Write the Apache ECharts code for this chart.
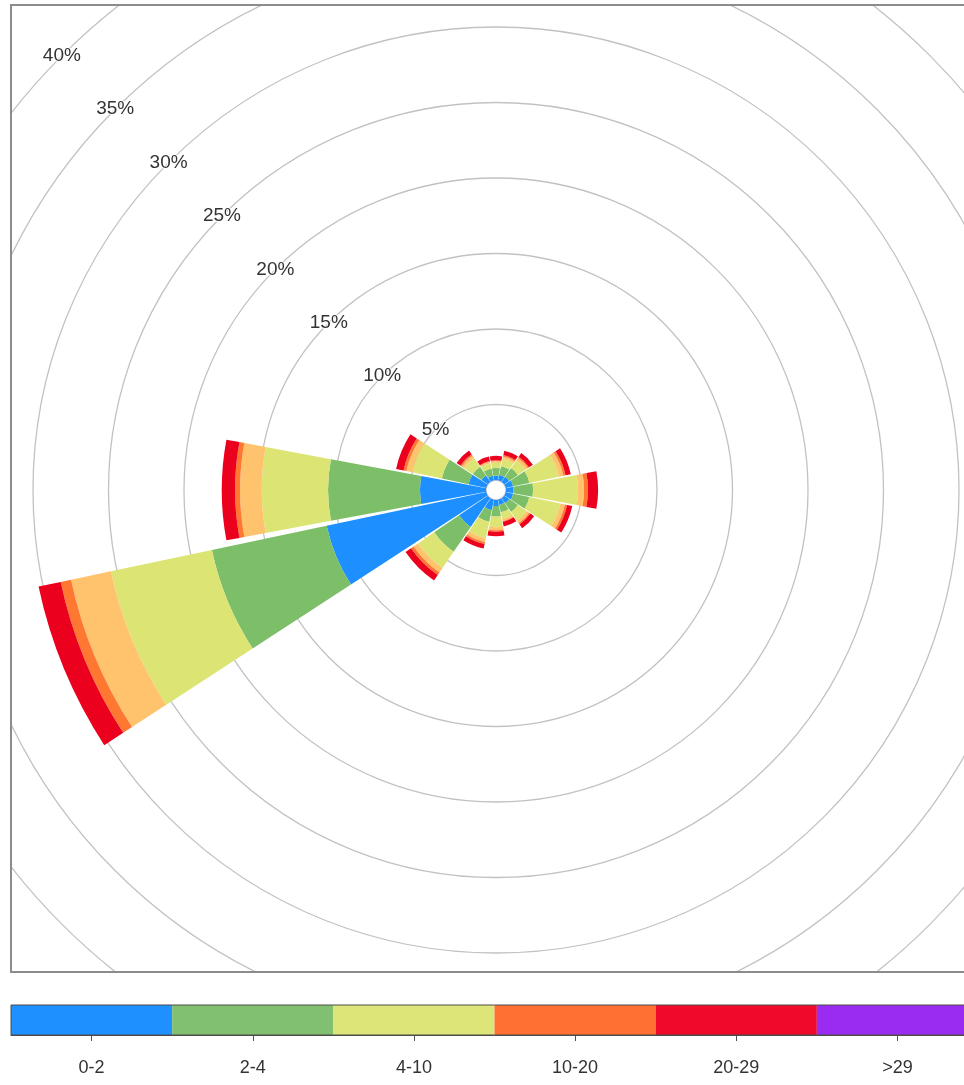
<!DOCTYPE html>
<html><head><meta charset="utf-8">
<script src="https://cdn.jsdelivr.net/npm/echarts@6/dist/echarts.min.js"></script>
<style>
html,body{margin:0;padding:0;background:#fff;overflow:hidden;width:964px;height:1085px;}
#rose{position:absolute;left:10px;top:4px;width:1000px;height:969px;border:2px solid #8c8c8c;box-sizing:border-box;}
#bar{position:absolute;left:0;top:990px;width:1000px;height:95px;}
</style></head><body>
<div id="rose"></div><div id="bar"></div>
<script>
// ---- data ----
const directions = ['N','NNE','NE','ENE','E','ESE','SE','SSE','S','SSW','SW','WSW','W','WNW','NW','NNW'];
const speedBins = ['0-2','2-4','4-10','10-20','20-29','>29'];
// frequency (%) per direction for each wind-speed bin
const bin0_2   = [0.30,0.35,0.40,0.50,0.50,0.50,0.40,0.35,0.40,0.70,2.30,10.80,4.37,1.20,0.50,0.30];
const bin2_4   = [0.50,0.60,0.70,1.10,1.30,1.10,0.70,0.50,0.70,0.80,2.00,7.77,6.09,1.80,0.70,0.50];
const bin4_10  = [0.35,0.50,0.60,2.00,2.97,2.10,0.70,0.45,0.70,1.10,1.30,6.83,4.39,2.00,0.70,0.35];
const bin10_20 = [0.10,0.15,0.20,0.30,0.40,0.30,0.20,0.15,0.20,0.25,0.36,2.70,1.44,0.40,0.20,0.10];
const bin20_29 = [0.05,0.10,0.10,0.15,0.26,0.15,0.10,0.05,0.10,0.15,0.20,0.70,0.33,0.20,0.10,0.05];
const bin29up  = [0.30,0.30,0.30,0.35,0.67,0.35,0.30,0.30,0.30,0.30,0.44,1.50,0.88,0.50,0.30,0.30];
const radiusMax = 45;
const radiusStep = 5;
const legendUnit = [1,1,1,1,1,1];

// ---- styles ----
const roseColors = ['#1E8FFF','#7DBE69','#DCE473','#FFC36E','#FF7832','#EB001E'];
const legendColors = ['#1E90FF','#80C070','#DDE478','#FF7033','#EE0A28','#9A2BF0'];
const font = 'Liberation Sans, Arial, sans-serif';

const binData = [bin0_2, bin2_4, bin4_10, bin10_20, bin20_29, bin29up];

const rose = echarts.init(document.getElementById('rose'));
const center = [484, 484];
const radius = [10, 10 + radiusMax * 15.1];
rose.setOption({
  animation: false,
  polar: [
    { center: center, radius: radius },
    { center: center, radius: radius }
  ],
  angleAxis: [
    { polarIndex: 0, type: 'value', min: 0, max: 360, startAngle: 135,
      axisLine: {show: false}, axisTick: {show: false}, axisLabel: {show: false}, splitLine: {show: false} },
    { polarIndex: 1, type: 'category', data: directions, startAngle: 101.25,
      axisLine: {show: false}, axisTick: {show: false}, axisLabel: {show: false}, splitLine: {show: false} }
  ],
  radiusAxis: [
    { polarIndex: 0, type: 'value', min: 0, max: radiusMax, interval: radiusStep,
      axisLine: {show: false}, axisTick: {show: false},
      splitLine: {show: true, showMinLine: false, lineStyle: {color: '#c2c2c2', width: 1.3}},
      axisLabel: {margin: 0, align: 'center', verticalAlign: 'middle', fontSize: 19, color: '#333',
        fontFamily: font, textBorderColor: '#fff', textBorderWidth: 2,
        formatter: v => (v > 0 && v <= 40) ? v + '%' : ''} },
    { polarIndex: 1, type: 'value', min: 0, max: radiusMax,
      axisLine: {show: false}, axisTick: {show: false}, axisLabel: {show: false}, splitLine: {show: false} }
  ],
  series: binData.map((d, i) => ({
    type: 'bar', coordinateSystem: 'polar', polarIndex: 1, stack: 'wind', z: 3,
    name: speedBins[i], data: d, barCategoryGap: '6%', silent: true,
    itemStyle: {color: roseColors[i]}
  }))
});

const bar = echarts.init(document.getElementById('bar'));
bar.setOption({
  animation: false,
  grid: {left: 11, top: 15, width: 967, height: 30, show: true, z: 10,
    backgroundColor: 'transparent', borderColor: '#4d4d4d', borderWidth: 1},
  xAxis: {type: 'category', data: speedBins,
    axisLine: {show: true, lineStyle: {color: '#4d4d4d'}},
    axisTick: {show: true, alignWithLabel: true, length: 6, lineStyle: {color: '#4d4d4d'}},
    axisLabel: {margin: 24, fontSize: 18, color: '#333', fontFamily: font}},
  yAxis: {type: 'value', min: 0, max: 1, show: false},
  series: [{type: 'bar', barWidth: '100%', silent: true,
    data: legendUnit.map((v, i) => ({value: v, itemStyle: {color: legendColors[i]}}))}]
});
</script>
</body></html>
